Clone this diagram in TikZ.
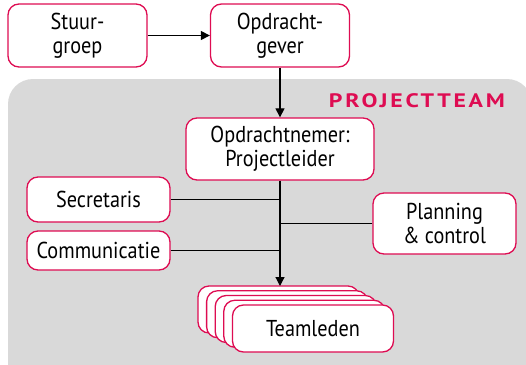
\documentclass[tikz,border=0pt]{standalone}
\usepackage{fontspec}
\setmainfont{PT Sans}[FakeStretch=0.88]
\newfontfamily\headfont{PT Sans}[LetterSpace=14,FakeStretch=1.22]
\usetikzlibrary{arrows.meta}
\definecolor{crimson}{RGB}{222,12,82}
\definecolor{panelgray}{RGB}{217,217,217}
\tikzset{
  rolebox/.style={draw=crimson, line width=1.3pt, fill=white, rounded corners=11pt,
    align=center, inner sep=0pt, font=\fontsize{23}{24}\selectfont},
  link/.style={draw=black, line width=1.2pt},
  flow/.style={link, -{Triangle[length=9pt,width=9pt]}}
}
\begin{document}
\begin{tikzpicture}[x=1pt,y=-1pt]
  \useasboundingbox (0,0) rectangle (526,364);
  % team panel
  \begin{scope}
    \clip (0,0) rectangle (526,364);
    \fill[panelgray, rounded corners=25pt] (8,79) rectangle (532,390);
  \end{scope}
  \node[text=crimson, anchor=base east, inner sep=0pt, font=\headfont\bfseries\fontsize{19.5}{20}\selectfont]
    (teamlabel) at (505,107) {PROJECTTEAM};

  % boxes
  \node[rolebox, minimum width=139pt, minimum height=63pt] (stuur) at (77.5,35.5) {Stuur-\\groep};
  \node[rolebox, minimum width=139pt, minimum height=63pt] (gever) at (280,35.5) {Opdracht-\\gever};
  \node[rolebox, minimum width=188pt, minimum height=62pt] (nemer) at (280,149) {Opdrachtnemer:\\Projectleider};
  \node[rolebox, minimum width=143pt, minimum height=45pt] (secr) at (98.5,199.5) {Secretaris};
  \node[rolebox, minimum width=143pt, minimum height=39pt] (comm) at (98.5,250.5) {Communicatie};
  \node[rolebox, minimum width=143pt, minimum height=61pt] (plan) at (444.5,223.5) {Planning\\\& control};

  % stacked team members
  \foreach \i/\nm in {0/tl0,1/tl1,2/tl2,3/tl3} {
    \node[rolebox, minimum width=161pt, minimum height=47pt] (\nm) at (278.5+8.6*\i,309.5+4.75*\i) {};
  }
  \node[rolebox, minimum width=161pt, minimum height=47pt] (team) at (313,328.5) {Teamleden};

  % connectors
  \draw[flow] (stuur.east) -- (gever.west);
  \draw[flow] (gever.south) -- (nemer.north);
  \coordinate (stacktop) at (280,286);
  \draw[flow] (nemer.south) -- (stacktop);
  \draw[link] (secr.east) -- (secr.east -| nemer.south);
  \draw[link] (comm.east) -- (comm.east -| nemer.south);
  \draw[link] (plan.west) -- (plan.west -| nemer.south);
\end{tikzpicture}
\end{document}
